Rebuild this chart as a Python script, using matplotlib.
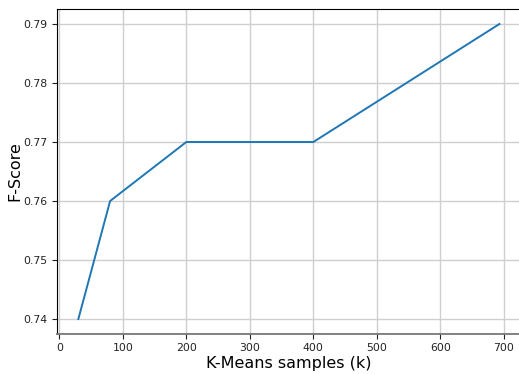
import matplotlib
matplotlib.use("Agg")
import matplotlib.pyplot as plt

samples_k = [30, 80, 200, 400, 693]
f_score = [0.74, 0.76, 0.77, 0.77, 0.79]

fig = plt.figure(figsize=(5.19, 3.74), dpi=100)
ax = fig.add_axes([0.1104, 0.1076, 0.8925, 0.8677])
ax.plot(samples_k, f_score, color="#1f77b4", linewidth=1.4)
ax.grid(True, color="#cfcfcf", linewidth=1.0)
ax.set_xticks([0, 100, 200, 300, 400, 500, 600, 700])
ax.set_yticks([0.74, 0.75, 0.76, 0.77, 0.78, 0.79])
ax.tick_params(labelsize=7.8, length=3.5, width=0.8, colors="#222222")
ax.set_xlabel("K-Means samples (k)", fontsize=11.5, labelpad=2)
ax.set_ylabel("F-Score", fontsize=11.5, labelpad=1)
ax.spines["bottom"].set_color("#777777")
ax.spines["bottom"].set_linewidth(1.3)
ax.spines["right"].set_visible(False)
fig.savefig("out.png", dpi=100)
